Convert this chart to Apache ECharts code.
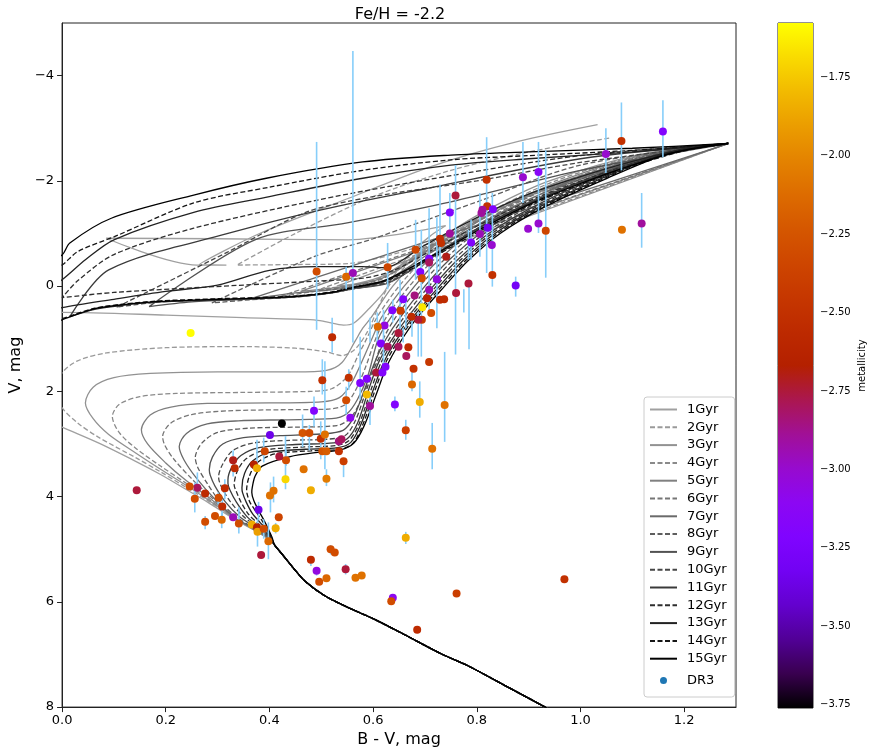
<!DOCTYPE html>
<html>
<head>
<meta charset="utf-8">
<script src="https://cdn.jsdelivr.net/npm/echarts@6/dist/echarts.min.js"></script>
<style>
html, body { margin: 0; padding: 0; background: #fff; }
#chart { width: 870px; height: 753px; }
</style>
</head>
<body>
<div id="chart"></div>
<script>
// ---- data ----
const ages = ['1Gyr','2Gyr','3Gyr','4Gyr','5Gyr','6Gyr','7Gyr','8Gyr','9Gyr','10Gyr','11Gyr','12Gyr','13Gyr','14Gyr','15Gyr'];
const xTicks = [0, 0.2, 0.4, 0.6, 0.8, 1.0, 1.2];
const yTicks = [-4, -2, 0, 2, 4, 6, 8];
const cbTicks = [-3.75, -3.5, -3.25, -3.0, -2.75, -2.5, -2.25, -2.0, -1.75];

// shared lower main sequence  [B-V, V]
const lowerMS = [[0.96,8.15],[0.86,7.62],[0.78,7.2],[0.734,7.0],[0.66,6.62],[0.6,6.32],[0.55,6.1],[0.506,5.88],[0.47,5.62],[0.448,5.38],[0.425,5.1],[0.41,4.92]];

const iso1 = [[0.398,4.8],[0.38,4.69],[0.36,4.58],[0.331,4.42],[0.28,4.1],[0.237,3.85],[0.19,3.58],[0.142,3.33],[0.07,2.98],[0.0,2.68],[-0.05,2.45],[-0.08,1.5],[-0.05,0.55],
  [0.0,0.5],[0.2,0.55],[0.35,0.6],[0.486,0.64],[0.51,0.68],[0.543,0.74],[0.563,0.7],[0.59,0.45],[0.62,0.13],[0.64,-0.2],[0.67,-0.6],[0.71,-0.95],[0.74,-1.15],
  [0.553,-0.88],[0.3,-0.9],[0.085,-0.91],[0.26,-0.4],[0.317,-0.4],[0.265,-0.41],[0.381,-1.0],[0.553,-1.67],[0.72,-2.3],[0.88,-2.75],[1.033,-3.07]];
const iso2 = [[0.398,4.8],[0.38,4.69],[0.36,4.57],[0.332,4.41],[0.28,4.07],[0.237,3.81],[0.19,3.53],[0.142,3.26],[0.07,2.87],[0.03,2.6],[0.0,2.31],[-0.012,2.0],[0.0,1.65],[0.03,1.42],[0.086,1.27],
  [0.2,1.17],[0.35,1.15],[0.45,1.18],[0.51,1.25],[0.54,1.32],[0.565,1.2],[0.59,0.85],[0.61,0.4],[0.63,0.0],[0.675,-0.5],[0.72,-0.85],
  [0.553,-0.43],[0.45,-0.41],[0.337,-0.4],[0.45,-1.0],[0.6,-1.7],[0.75,-2.2],[0.9,-2.55],[1.06,-2.82]];
const iso3 = [[0.398,4.8],[0.38,4.69],[0.36,4.57],[0.333,4.41],[0.28,4.05],[0.237,3.77],[0.19,3.48],[0.142,3.17],[0.09,2.82],[0.06,2.52],[0.045,2.22],[0.06,1.92],[0.1,1.74],[0.17,1.66],[0.3,1.63],[0.45,1.63],[0.51,1.6],[0.54,1.45],[0.565,1.05],[0.58,0.8],
  [0.596,0.6],[0.638,0.0],[0.685,-0.5],[0.745,-1.0],[0.83,-1.5],[0.94,-2.0],[1.115,-2.5],[1.285,-2.71],
  [0.53,0.0],[0.57,-0.05],[0.62,-0.2],[0.7,-0.7],[0.8,-1.28],[0.9,-1.75],[1.0,-2.1],[1.1,-2.38],[1.2,-2.6],[1.285,-2.71]];
const iso4 = [[0.399,4.8],[0.381,4.69],[0.361,4.57],[0.333,4.41],[0.28,4.03],[0.237,3.73],[0.19,3.42],[0.142,3.08],[0.11,2.78],[0.097,2.48],[0.11,2.25],[0.15,2.1],[0.22,2.04],[0.35,2.02],[0.48,2.0],[0.52,1.95],[0.55,1.72],[0.572,1.3],[0.59,0.95],
  [0.607,0.6],[0.65,0.0],[0.697,-0.5],[0.757,-1.0],[0.842,-1.5],[0.952,-2.0],[1.12,-2.5],[1.285,-2.71],
  [0.5,0.05],[0.56,-0.02],[0.62,-0.18],[0.7,-0.68],[0.8,-1.26],[0.9,-1.73],[1.0,-2.08],[1.1,-2.37],[1.2,-2.6],[1.285,-2.71]];
const iso5 = [[0.399,4.8],[0.382,4.69],[0.362,4.57],[0.334,4.41],[0.285,4.03],[0.24,3.7],[0.2,3.36],[0.165,3.0],[0.153,2.73],[0.17,2.45],[0.21,2.3],[0.28,2.23],[0.4,2.22],[0.5,2.2],[0.535,2.12],[0.558,1.85],[0.58,1.4],[0.6,0.95],
  [0.616,0.6],[0.66,0.0],[0.707,-0.5],[0.767,-1.0],[0.852,-1.5],[0.962,-2.0],[1.125,-2.5],[1.285,-2.71],
  [0.46,0.1],[0.55,0.0],[0.62,-0.16],[0.7,-0.66],[0.8,-1.24],[0.9,-1.71],[1.0,-2.06],[1.1,-2.36],[1.2,-2.6],[1.285,-2.71]];
const iso6 = [[0.4,4.8],[0.383,4.69],[0.363,4.57],[0.335,4.41],[0.29,4.03],[0.25,3.66],[0.215,3.28],[0.198,3.02],[0.194,2.86],[0.21,2.6],[0.25,2.44],[0.32,2.37],[0.42,2.35],[0.51,2.34],[0.545,2.26],[0.565,2.0],[0.585,1.55],[0.605,1.0],
  [0.625,0.6],[0.67,0.0],[0.717,-0.5],[0.777,-1.0],[0.862,-1.5],[0.972,-2.0],[1.13,-2.5],[1.285,-2.71],
  [0.42,0.2],[0.5,0.08],[0.56,0.0],[0.62,-0.15],[0.7,-0.64],[0.8,-1.22],[0.9,-1.7],[1.0,-2.05],[1.1,-2.35],[1.2,-2.6],[1.285,-2.71]];
const iso7 = [[0.4,4.8],[0.384,4.69],[0.364,4.57],[0.336,4.42],[0.295,4.05],[0.26,3.66],[0.235,3.3],[0.226,3.05],[0.24,2.8],[0.28,2.62],[0.34,2.56],[0.43,2.54],[0.52,2.52],[0.55,2.42],[0.57,2.15],[0.59,1.7],[0.61,1.0],
  [0.634,0.6],[0.68,0.0],[0.727,-0.5],[0.787,-1.0],[0.872,-1.5],[0.982,-2.0],[1.135,-2.5],[1.285,-2.71],
  [0.36,0.25],[0.45,0.13],[0.52,0.07],[0.57,0.0],[0.63,-0.14],[0.71,-0.63],[0.81,-1.21],[0.91,-1.69],[1.0,-2.03],[1.1,-2.34],[1.2,-2.6],[1.285,-2.71]];
const iso8 = [[0.4,4.79],[0.385,4.68],[0.366,4.57],[0.338,4.4],[0.305,4.1],[0.28,3.75],[0.262,3.45],[0.257,3.26],[0.27,2.98],[0.3,2.78],[0.36,2.7],[0.45,2.68],[0.53,2.65],[0.555,2.52],[0.575,2.2],[0.595,1.7],[0.62,1.0],
  [0.643,0.6],[0.69,0.0],[0.737,-0.5],[0.797,-1.0],[0.882,-1.5],[0.992,-2.0],[1.14,-2.5],[1.285,-2.71],
  [1.0,-2.3],[0.8,-1.6],[0.6,-0.9],[0.486,-0.56],[0.289,0.32],[0.35,0.27],[0.45,0.2],[0.52,0.12],[0.58,0.02],[0.64,-0.12],[0.72,-0.62],[0.82,-1.2],[0.92,-1.68],[1.01,-2.02],[1.1,-2.33],[1.2,-2.6],[1.285,-2.71]];
const iso9 = [[0.401,4.79],[0.387,4.67],[0.368,4.55],[0.342,4.38],[0.315,4.1],[0.295,3.8],[0.286,3.6],[0.284,3.49],[0.29,3.25],[0.31,3.0],[0.35,2.88],[0.42,2.84],[0.5,2.81],[0.542,2.74],[0.562,2.5],[0.584,1.95],[0.603,1.45],[0.624,1.02],
  [0.652,0.6],[0.7,0.0],[0.747,-0.5],[0.807,-1.0],[0.892,-1.5],[1.002,-2.0],[1.145,-2.5],[1.285,-2.71],
  [1.0,-2.2],[0.75,-1.6],[0.55,-1.2],[0.372,-0.88],[0.168,0.39],[0.25,0.3],[0.4,0.23],[0.5,0.15],[0.57,0.04],[0.63,-0.06],[0.72,-0.6],[0.82,-1.18],[0.92,-1.66],[1.01,-2.0],[1.1,-2.32],[1.2,-2.59],[1.285,-2.71]];
const iso10 = [[0.401,4.78],[0.389,4.66],[0.371,4.54],[0.348,4.36],[0.325,4.1],[0.309,3.85],[0.303,3.7],[0.302,3.62],[0.31,3.38],[0.33,3.12],[0.37,2.98],[0.44,2.93],[0.51,2.91],[0.546,2.84],[0.566,2.55],[0.588,1.95],[0.607,1.45],[0.629,1.04],
  [0.659,0.6],[0.708,0.0],[0.755,-0.5],[0.815,-1.0],[0.9,-1.5],[1.01,-2.0],[1.149,-2.5],[1.285,-2.71],
  [1.0,-2.35],[0.8,-2.0],[0.6,-1.7],[0.47,-1.4],[0.32,-0.65],[0.105,0.4],[0.19,0.3],[0.3,0.26],[0.445,0.21],[0.52,0.13],[0.56,0.05],[0.63,-0.08],[0.72,-0.58],[0.82,-1.16],[0.92,-1.64],[1.01,-1.99],[1.1,-2.31],[1.2,-2.59],[1.285,-2.71]];
const iso11 = [[0.402,4.78],[0.391,4.66],[0.374,4.53],[0.355,4.36],[0.336,4.1],[0.324,3.88],[0.32,3.75],[0.32,3.68],[0.327,3.45],[0.345,3.22],[0.38,3.07],[0.45,3.01],[0.524,2.98],[0.55,2.9],[0.57,2.6],[0.592,1.95],[0.611,1.44],[0.634,1.05],
  [0.666,0.6],[0.716,0.0],[0.763,-0.5],[0.823,-1.0],[0.908,-1.5],[1.018,-2.0],[1.153,-2.5],[1.285,-2.71],
  [1.0,-2.42],[0.7,-1.85],[0.5,-1.45],[0.32,-1.0],[0.09,-0.31],[0.015,0.58],[0.063,0.44],[0.12,0.36],[0.19,0.3],[0.3,0.26],[0.445,0.21],[0.52,0.13],[0.56,0.04],[0.62,-0.08],[0.71,-0.56],[0.81,-1.14],[0.91,-1.62],[1.0,-1.97],[1.1,-2.3],[1.2,-2.58],[1.285,-2.71]];
const iso12 = [[0.402,4.77],[0.393,4.64],[0.377,4.5],[0.36,4.34],[0.345,4.1],[0.336,3.9],[0.332,3.78],[0.338,3.52],[0.355,3.28],[0.39,3.12],[0.46,3.06],[0.528,3.03],[0.553,2.94],[0.573,2.62],[0.596,1.97],[0.615,1.46],[0.638,1.06],
  [0.671,0.6],[0.722,0.0],[0.769,-0.5],[0.829,-1.0],[0.914,-1.5],[1.024,-2.0],[1.156,-2.5],[1.285,-2.71],
  [1.0,-2.48],[0.75,-2.1],[0.495,-1.64],[0.254,-1.1],[0.1,-0.6],[0.03,-0.1],[0.0,0.22],[0.1,0.12],[0.276,0.02],[0.5,-0.1],[0.58,-0.15],[0.64,-0.3],[0.72,-0.72],[0.82,-1.24],[0.92,-1.7],[1.01,-2.03],[1.1,-2.33],[1.2,-2.59],[1.285,-2.71]];
const iso13 = [[0.403,4.77],[0.395,4.63],[0.381,4.48],[0.367,4.32],[0.355,4.1],[0.348,3.92],[0.347,3.83],[0.352,3.56],[0.368,3.32],[0.4,3.16],[0.47,3.1],[0.532,3.07],[0.557,2.97],[0.576,2.64],[0.6,1.98],[0.619,1.48],[0.642,1.07],
  [0.676,0.6],[0.728,0.0],[0.775,-0.5],[0.835,-1.0],[0.92,-1.5],[1.03,-2.0],[1.159,-2.5],[1.285,-2.71],
  [1.1,-2.55],[0.9,-2.42],[0.75,-2.3],[0.58,-2.05],[0.4,-1.7],[0.254,-1.4],[0.1,-0.88],[0.045,-0.5],[0.0,-0.12],[-0.03,0.05],[-0.03,0.5],[0.0,0.41],[0.1,0.25],[0.2,0.1],[0.3,-0.02],[0.4,-0.3],[0.49,-0.37],[0.58,-0.37],[0.62,-0.35],[0.7,-0.78],[0.8,-1.3],[0.9,-1.75],[1.0,-2.08],[1.1,-2.37],[1.2,-2.61],[1.285,-2.71]];
const iso14 = [[0.404,4.77],[0.396,4.62],[0.386,4.46],[0.375,4.3],[0.362,4.1],[0.357,3.95],[0.356,3.88],[0.361,3.62],[0.376,3.36],[0.41,3.19],[0.48,3.13],[0.535,3.1],[0.56,3.0],[0.579,2.66],[0.603,2.0],[0.622,1.5],[0.646,1.08],
  [0.68,0.6],[0.733,0.0],[0.78,-0.5],[0.84,-1.0],[0.925,-1.5],[1.035,-2.0],[1.162,-2.5],[1.285,-2.71],
  [1.1,-2.58],[0.9,-2.48],[0.75,-2.4],[0.58,-2.2],[0.4,-1.88],[0.254,-1.58],[0.101,-0.94],[0.031,-0.66],[0.0,-0.4],[-0.03,-0.25],[-0.03,0.72],[0.0,0.62],[0.063,0.42],[0.12,0.34],[0.19,0.28],[0.3,0.24],[0.445,0.19],[0.52,0.11],[0.56,0.02],[0.63,-0.12],[0.71,-0.52],[0.82,-1.12],[0.91,-1.57],[1.0,-1.93],[1.1,-2.28],[1.2,-2.57],[1.285,-2.71]];
const iso15 = [[0.405,4.77],[0.398,4.62],[0.39,4.46],[0.38,4.28],[0.37,4.08],[0.366,3.92],[0.367,3.82],[0.372,3.62],[0.386,3.42],[0.44,3.24],[0.493,3.16],[0.537,3.11],[0.563,2.98],[0.582,2.67],[0.607,2.03],[0.626,1.53],[0.65,1.1],
  [0.685,0.6],[0.738,0.0],[0.785,-0.5],[0.845,-1.0],[0.93,-1.5],[1.04,-2.0],[1.165,-2.5],[1.285,-2.71],
  [1.1,-2.62],[0.9,-2.55],[0.75,-2.49],[0.58,-2.36],[0.394,-2.05],[0.254,-1.73],[0.095,-1.29],[0.015,-0.82],[0.0,-0.59],[-0.03,-0.45],[-0.03,0.75],[0.0,0.64],[0.063,0.43],[0.12,0.35],[0.19,0.29],[0.3,0.25],[0.445,0.2],[0.52,0.12],[0.56,0.03],[0.62,-0.1],[0.7,-0.5],[0.81,-1.1],[0.9,-1.55],[1.0,-1.95],[1.1,-2.3],[1.2,-2.58],[1.285,-2.71]];
const isochrones = [iso1, iso2, iso3, iso4, iso5, iso6, iso7, iso8, iso9, iso10, iso11, iso12, iso13, iso14, iso15];

// DR3 stars  [B-V, V, metallicity]
const stars = [
  [1.159,-2.94,-3.2],[1.079,-2.76,-2.5],[1.049,-2.51,-3.0],[1.08,-1.07,-2.1],[1.118,-1.19,-2.9],
  [0.919,-2.17,-3.15],[0.889,-2.07,-3.0],[0.919,-1.19,-3.0],[0.899,-1.09,-3.0],[0.933,-1.05,-2.35],[0.875,-0.01,-3.3],
  [0.819,-2.02,-2.5],[0.82,-1.52,-2.5],[0.811,-1.45,-2.9],[0.809,-1.39,-2.9],[0.831,-1.46,-3.2],[0.821,-1.11,-3.3],[0.829,-0.78,-3.0],[0.83,-0.21,-2.5],
  [0.759,-1.72,-2.75],[0.748,-1.4,-3.2],[0.748,-1.0,-2.9],[0.789,-0.83,-3.2],[0.806,-0.99,-2.95],[0.741,-0.56,-2.7],[0.784,-0.05,-2.75],[0.76,0.13,-2.75],
  [0.491,-0.28,-2.3],[0.548,-0.18,-2.15],[0.561,-0.25,-2.95],[0.628,-0.36,-2.35],[0.682,-0.69,-2.35],[0.729,-0.9,-2.5],[0.731,-0.82,-2.5],
  [0.708,-0.52,-3.2],[0.708,-0.45,-2.8],[0.691,-0.27,-3.2],[0.694,-0.15,-2.3],[0.723,-0.13,-3.05],[0.708,0.07,-2.95],[0.68,0.18,-2.85],[0.658,0.25,-3.2],
  [0.704,0.23,-2.65],[0.695,0.4,-1.65],[0.729,0.26,-2.55],[0.737,0.25,-2.55],[0.712,0.51,-2.3],[0.694,0.64,-2.45],[0.687,0.64,-2.75],[0.674,0.58,-2.55],
  [0.653,0.47,-2.4],[0.637,0.46,-3.2],[0.622,0.75,-3.05],[0.609,0.77,-2.15],[0.649,0.89,-2.75],[0.615,1.09,-3.2],[0.628,1.15,-2.8],[0.649,1.15,-2.8],
  [0.668,1.16,-2.55],[0.664,1.33,-2.8],[0.521,0.97,-2.55],[0.708,1.44,-2.45],[0.678,1.57,-2.5],[0.248,0.89,-1.58],
  [0.606,1.64,-2.75],[0.575,1.84,-3.2],[0.588,1.76,-3.2],[0.618,1.64,-3.2],[0.624,1.53,-3.2],[0.553,1.74,-2.5],[0.502,1.79,-2.5],
  [0.675,1.87,-2.15],[0.69,2.2,-1.85],[0.642,2.25,-3.2],[0.588,2.06,-1.8],[0.594,2.28,-2.9],[0.548,2.17,-2.3],[0.486,2.37,-3.2],[0.556,2.5,-3.1],
  [0.663,2.74,-2.4],[0.714,3.09,-2.1],[0.738,2.26,-2.1],
  [0.424,2.61,-3.76],[0.401,2.83,-3.35],[0.464,2.79,-2.25],[0.477,2.79,-2.3],[0.499,2.9,-2.5],[0.507,2.82,-2.1],[0.502,3.14,-2.25],[0.51,3.14,-2.2],
  [0.534,2.95,-2.85],[0.539,2.91,-2.8],[0.534,3.14,-2.5],[0.543,3.33,-2.4],
  [0.466,3.48,-2.1],[0.51,3.66,-2.05],[0.48,3.88,-1.85],[0.431,3.67,-1.7],[0.432,3.31,-2.3],[0.419,3.24,-2.75],[0.391,3.14,-2.35],[0.37,3.39,-2.65],[0.376,3.46,-1.85],
  [0.33,3.31,-2.7],[0.333,3.46,-2.55],[0.314,3.84,-2.55],[0.302,4.02,-2.3],[0.309,4.19,-2.55],[0.295,4.37,-2.3],[0.308,4.44,-2.15],[0.33,4.39,-2.95],[0.341,4.51,-2.3],
  [0.276,3.94,-2.55],[0.261,3.83,-2.8],[0.246,3.81,-2.3],[0.256,4.04,-2.3],[0.276,4.48,-2.3],[0.144,3.88,-2.75],
  [0.379,4.25,-3.35],[0.418,4.39,-2.35],[0.366,4.53,-1.85],[0.376,4.58,-2.65],[0.377,4.67,-1.9],[0.389,4.61,-2.3],[0.412,4.6,-1.85],[0.398,4.85,-2.15],
  [0.401,3.98,-2.1],[0.408,3.89,-2.1],
  [0.384,5.11,-2.75],[0.48,5.2,-2.55],[0.491,5.41,-3.05],[0.496,5.62,-2.3],[0.51,5.55,-2.15],[0.518,5.0,-2.3],[0.526,5.06,-2.3],[0.547,5.38,-2.75],
  [0.566,5.54,-2.1],[0.578,5.5,-2.1],[0.638,5.92,-3.1],[0.635,5.99,-2.3],[0.685,6.53,-2.55],[0.663,4.78,-1.85],[0.969,5.57,-2.5],[0.761,5.84,-2.4]
];

// error bars  [B-V, V top, V bottom]
const errBars = [
  [1.159,-3.53,-2.45],[1.079,-3.49,-2.2],[1.049,-3.0,-2.15],[1.118,-1.77,-0.73],
  [0.919,-2.74,-1.01],[0.889,-2.74,-1.58],[0.933,-2.58,-0.16],[0.819,-2.83,-0.25],[0.83,-1.77,0.01],[0.806,-1.77,-0.56],
  [0.759,-2.3,1.3],[0.748,-1.77,-1.01],[0.789,-1.26,-0.5],[0.875,-0.18,0.2],
  [0.738,1.25,2.96],[0.714,2.6,3.48],[0.69,1.81,2.5],[0.663,2.54,2.92],[0.642,2.1,2.38],[0.675,1.58,2.0],
  [0.491,-2.74,0.83],[0.561,-4.47,1.07],[0.521,0.6,1.26],[0.575,0.96,2.16],[0.548,-0.37,0.06],[0.628,-0.82,0.06],
  [0.608,0.5,1.07],[0.62,0.45,1.58],[0.638,0.26,0.69],[0.652,-0.12,0.83],[0.663,0.26,0.8],[0.682,-1.26,-0.12],
  [0.693,-1.07,1.34],[0.708,-1.48,0.45],[0.723,-1.31,0.8],[0.729,-1.93,-0.31],[0.784,-1.07,-0.5],[0.785,-0.12,1.2],
  [0.775,0.06,0.5],[0.675,0.5,0.96],[0.687,0.5,1.34],[0.658,0.8,1.07],[0.594,0.6,1.07],
  [0.502,1.39,2.06],[0.553,1.58,1.97],[0.486,2.1,2.67],[0.548,1.91,2.44],[0.594,2.02,2.64],[0.464,2.44,3.06],[0.477,2.64,3.12],
  [0.499,2.57,3.29],[0.507,1.43,3.48],[0.543,3.29,3.63],[0.51,3.48,3.8],[0.431,2.85,3.86],[0.432,3.12,3.42],[0.408,3.62,4.11],
  [0.402,3.73,4.3],[0.376,2.92,3.42],[0.389,2.88,3.35],[0.33,3.12,3.62],[0.314,3.67,4.05],[0.301,3.92,4.15],[0.309,4.05,4.43],
  [0.308,4.3,4.6],[0.256,3.73,4.3],[0.261,3.54,3.86],[0.276,4.37,4.62],[0.389,4.43,4.8],[0.398,4.49,5.19],[0.377,4.43,4.95],
  [0.412,4.5,4.7],[0.48,5.13,5.32],[0.491,5.35,5.5],[0.518,4.92,5.1],[0.547,5.28,5.48],[0.638,5.85,6.0],[0.663,4.67,4.9],
  [0.341,4.2,4.7],[0.379,4.1,4.45]
];

// colour scale range of the bar
const fehMin = -3.76;
const fehMax = -1.578;

// ---- styles ----
const grays = ['#a0a0a0','#9a9a9a','#929292','#8a8a8a','#808080','#767676','#6a6a6a','#5e5e5e','#525252','#464646','#3a3a3a','#2e2e2e','#222222','#161616','#000000'];
const gnuplot = ['#000000','#39004f','#510096','#6301ce','#7202f3','#8004ff','#8c07f3','#970bce','#a11096','#ab174f','#b42000',
  '#bd2a00','#c63700','#ce4600','#d55700','#dd6c00','#e48300','#eb9d00','#f2ba00','#f9db00','#ffff00'];
const FONT = 'DejaVu Sans';
const minus = (s) => s.replace('-', '\u2212');

let myChart = echarts.init(document.getElementById('chart'));

let series = isochrones.map(function (pts, i) {
  return {
    name: ages[i],
    type: 'line',
    xAxisIndex: 0,
    yAxisIndex: 0,
    data: lowerMS.concat(pts),
    showSymbol: false,
    symbol: 'none',
    smooth: 0.3,
    clip: true,
    z: 2,
    lineStyle: { color: grays[i], width: 1.3, type: i % 2 === 1 ? [5, 2.5] : 'solid' },
    emphasis: { disabled: true },
  };
});

series.push({
  type: 'custom',
  xAxisIndex: 0,
  yAxisIndex: 0,
  data: errBars,
  z: 3,
  clip: true,
  renderItem: function (params, api) {
    let a = api.coord([api.value(0), api.value(1)]);
    let b = api.coord([api.value(0), api.value(2)]);
    return {
      type: 'line',
      shape: { x1: a[0], y1: a[1], x2: b[0], y2: b[1] },
      style: { stroke: '#87cefa', lineWidth: 1.6 },
    };
  },
});

series.push({
  name: 'DR3',
  type: 'scatter',
  xAxisIndex: 0,
  yAxisIndex: 0,
  data: stars,
  symbolSize: 8,
  itemStyle: { opacity: 1 },
  z: 5,
  emphasis: { disabled: true },
});
const scatterIndex = series.length - 1;

// colour bar drawn in its own grid
series.push({
  type: 'custom',
  xAxisIndex: 1,
  yAxisIndex: 1,
  data: [[0, fehMin, 1, fehMax]],
  silent: true,
  renderItem: function (params, api) {
    let top = api.coord([api.value(0), api.value(3)]);
    let bot = api.coord([api.value(2), api.value(1)]);
    let stops = gnuplot.map(function (c, k) {
      return { offset: k / (gnuplot.length - 1), color: gnuplot[gnuplot.length - 1 - k] };
    });
    return {
      type: 'rect',
      shape: { x: top[0], y: top[1], width: bot[0] - top[0], height: bot[1] - top[1] },
      style: { fill: new echarts.graphic.LinearGradient(0, 0, 0, 1, stops) },
    };
  },
});

let legendData = ages.map(function (a) {
  return { name: a, itemStyle: { opacity: 0 } };
});
legendData.push({
  name: 'DR3',
  icon: 'circle',
  itemStyle: { color: '#1f77b4', borderColor: '#ffffff', borderWidth: 7, opacity: 1 },
});

let option = {
  animation: false,
  backgroundColor: '#ffffff',
  textStyle: { fontFamily: FONT, color: '#000' },
  title: {
    text: 'Fe/H = -2.2',
    left: 395,
    top: 2,
    textAlign: 'center',
    textStyle: { fontFamily: FONT, fontSize: 16, fontWeight: 'normal', color: '#000' },
  },
  grid: [
    { left: 55, top: 23, width: 681, height: 685, show: true, borderColor: '#222', borderWidth: 1, backgroundColor: 'transparent' },
    { left: 778, top: 23, width: 35, height: 685, show: true, borderColor: '#222', borderWidth: 1, backgroundColor: 'transparent' },
  ],
  xAxis: [
    {
      gridIndex: 0,
      type: 'value',
      min: 0,
      max: 1.3,
      name: 'B - V, mag',
      nameLocation: 'middle',
      nameGap: 24,
      nameTextStyle: { fontFamily: FONT, fontSize: 16, color: '#000' },
      axisLine: { show: true, onZero: false, lineStyle: { color: '#222', width: 1 } },
      axisTick: { show: true, length: 5, customValues: xTicks, lineStyle: { color: '#222' } },
      axisLabel: { customValues: xTicks, fontFamily: FONT, fontSize: 13, color: '#000', margin: 7,
        formatter: function (v) { return v.toFixed(1); } },
      splitLine: { show: false },
    },
    { gridIndex: 1, type: 'value', min: 0, max: 1, show: false },
  ],
  yAxis: [
    {
      gridIndex: 0,
      type: 'value',
      min: -5,
      max: 8,
      inverse: true,
      name: 'V, mag',
      nameLocation: 'middle',
      nameGap: 32,
      nameRotate: 90,
      nameTextStyle: { fontFamily: FONT, fontSize: 16, color: '#000' },
      axisLine: { show: true, onZero: false, lineStyle: { color: '#222', width: 1 } },
      axisTick: { show: true, length: 5, customValues: yTicks, lineStyle: { color: '#222' } },
      axisLabel: { customValues: yTicks, fontFamily: FONT, fontSize: 13, color: '#000', margin: 8,
        formatter: function (v) { return minus(String(v)); } },
      splitLine: { show: false },
    },
    {
      gridIndex: 1,
      type: 'value',
      position: 'right',
      min: fehMin,
      max: fehMax,
      name: 'metallicity',
      nameLocation: 'middle',
      nameGap: 44,
      nameRotate: 90,
      nameTextStyle: { fontFamily: FONT, fontSize: 10, color: '#000' },
      axisLine: { show: false },
      axisTick: { show: true, length: 4, customValues: cbTicks, lineStyle: { color: '#222' } },
      axisLabel: { customValues: cbTicks, fontFamily: FONT, fontSize: 10, color: '#000', margin: 7,
        formatter: function (v) { return minus(v.toFixed(2)); } },
      splitLine: { show: false },
    },
  ],
  visualMap: {
    type: 'continuous',
    show: false,
    min: fehMin,
    max: fehMax,
    dimension: 2,
    seriesIndex: scatterIndex,
    inRange: { color: gnuplot },
  },
  legend: {
    data: legendData,
    orient: 'vertical',
    left: 644,
    top: 397,
    itemWidth: 27,
    itemHeight: 14,
    itemGap: 4.8,
    padding: [6, 8, 6, 5],
    selectedMode: false,
    backgroundColor: 'rgba(255,255,255,0.8)',
    borderColor: '#cccccc',
    borderWidth: 1,
    borderRadius: 3,
    textStyle: { fontFamily: FONT, fontSize: 13, color: '#000', padding: [0, 0, 0, 5] },
  },
  series: series,
};

myChart.setOption(option);
window.addEventListener('resize', function () {
  myChart.resize();
});
</script>
</body>
</html>
